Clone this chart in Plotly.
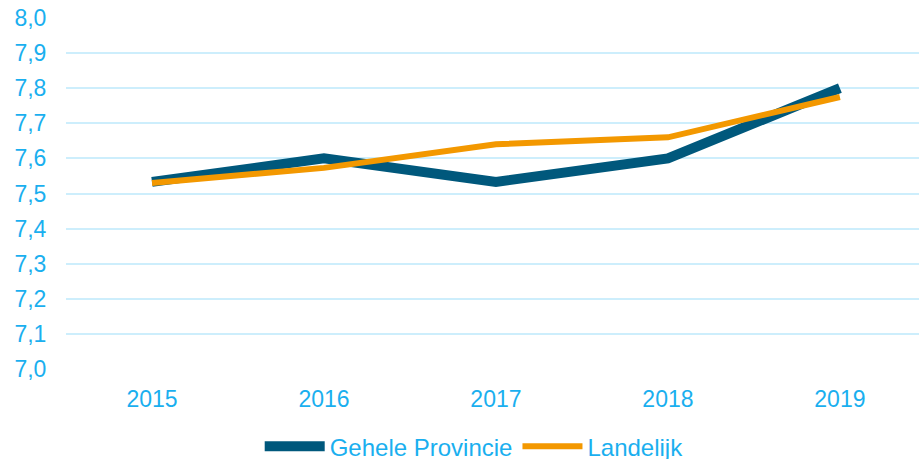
import plotly.graph_objects as go

years = ["2015", "2016", "2017", "2018", "2019"]
gehele_provincie = [7.533, 7.60, 7.533, 7.60, 7.80]
landelijk = [7.53, 7.573, 7.64, 7.66, 7.775]
y_ticks = [7.0, 7.1, 7.2, 7.3, 7.4, 7.5, 7.6, 7.7, 7.8, 7.9, 8.0]

text_color = "#1AAFEF"
grid_color = "#CDEEFC"
font = dict(family="Liberation Sans, Arial, sans-serif", size=23, color=text_color)
legend_font = dict(family="Liberation Sans, Arial, sans-serif", size=24, color=text_color)

fig = go.Figure()
fig.add_trace(go.Scatter(x=years, y=gehele_provincie, mode="lines", name="Gehele Provincie",
                         line=dict(color="#00587C", width=10)))
fig.add_trace(go.Scatter(x=years, y=landelijk, mode="lines", name="Landelijk",
                         line=dict(color="#F39800", width=6)))

fig.update_layout(
    width=919, height=459,
    margin=dict(l=66, r=0, t=18, b=90, autoexpand=False),
    plot_bgcolor="white", paper_bgcolor="white",
    font=font,
    separators=", ",
    showlegend=True,
    legend=dict(orientation="h", xref="container", yref="paper",
                x=0.516, xanchor="center", y=-0.285, yanchor="bottom",
                font=legend_font, itemwidth=60, traceorder="normal"),
    xaxis=dict(type="category", range=[-0.5, 4.46], showgrid=False, showline=False,
               zeroline=False, ticks="outside", ticklen=9, tickcolor="rgba(0,0,0,0)",
               tickfont=font, automargin=False, ticklabeloverflow="allow"),
    yaxis=dict(range=[7.0, 8.0], tickvals=y_ticks, tickformat=".1f", showgrid=True,
               gridcolor=grid_color, gridwidth=1.5, zeroline=False, showline=False,
               ticks="outside", ticklen=14, tickcolor="rgba(0,0,0,0)", tickfont=font,
               automargin=False, ticklabeloverflow="allow"),
)

fig.write_html("out.html", config={"displayModeBar": False},
               post_script="document.body.style.margin='0';")
